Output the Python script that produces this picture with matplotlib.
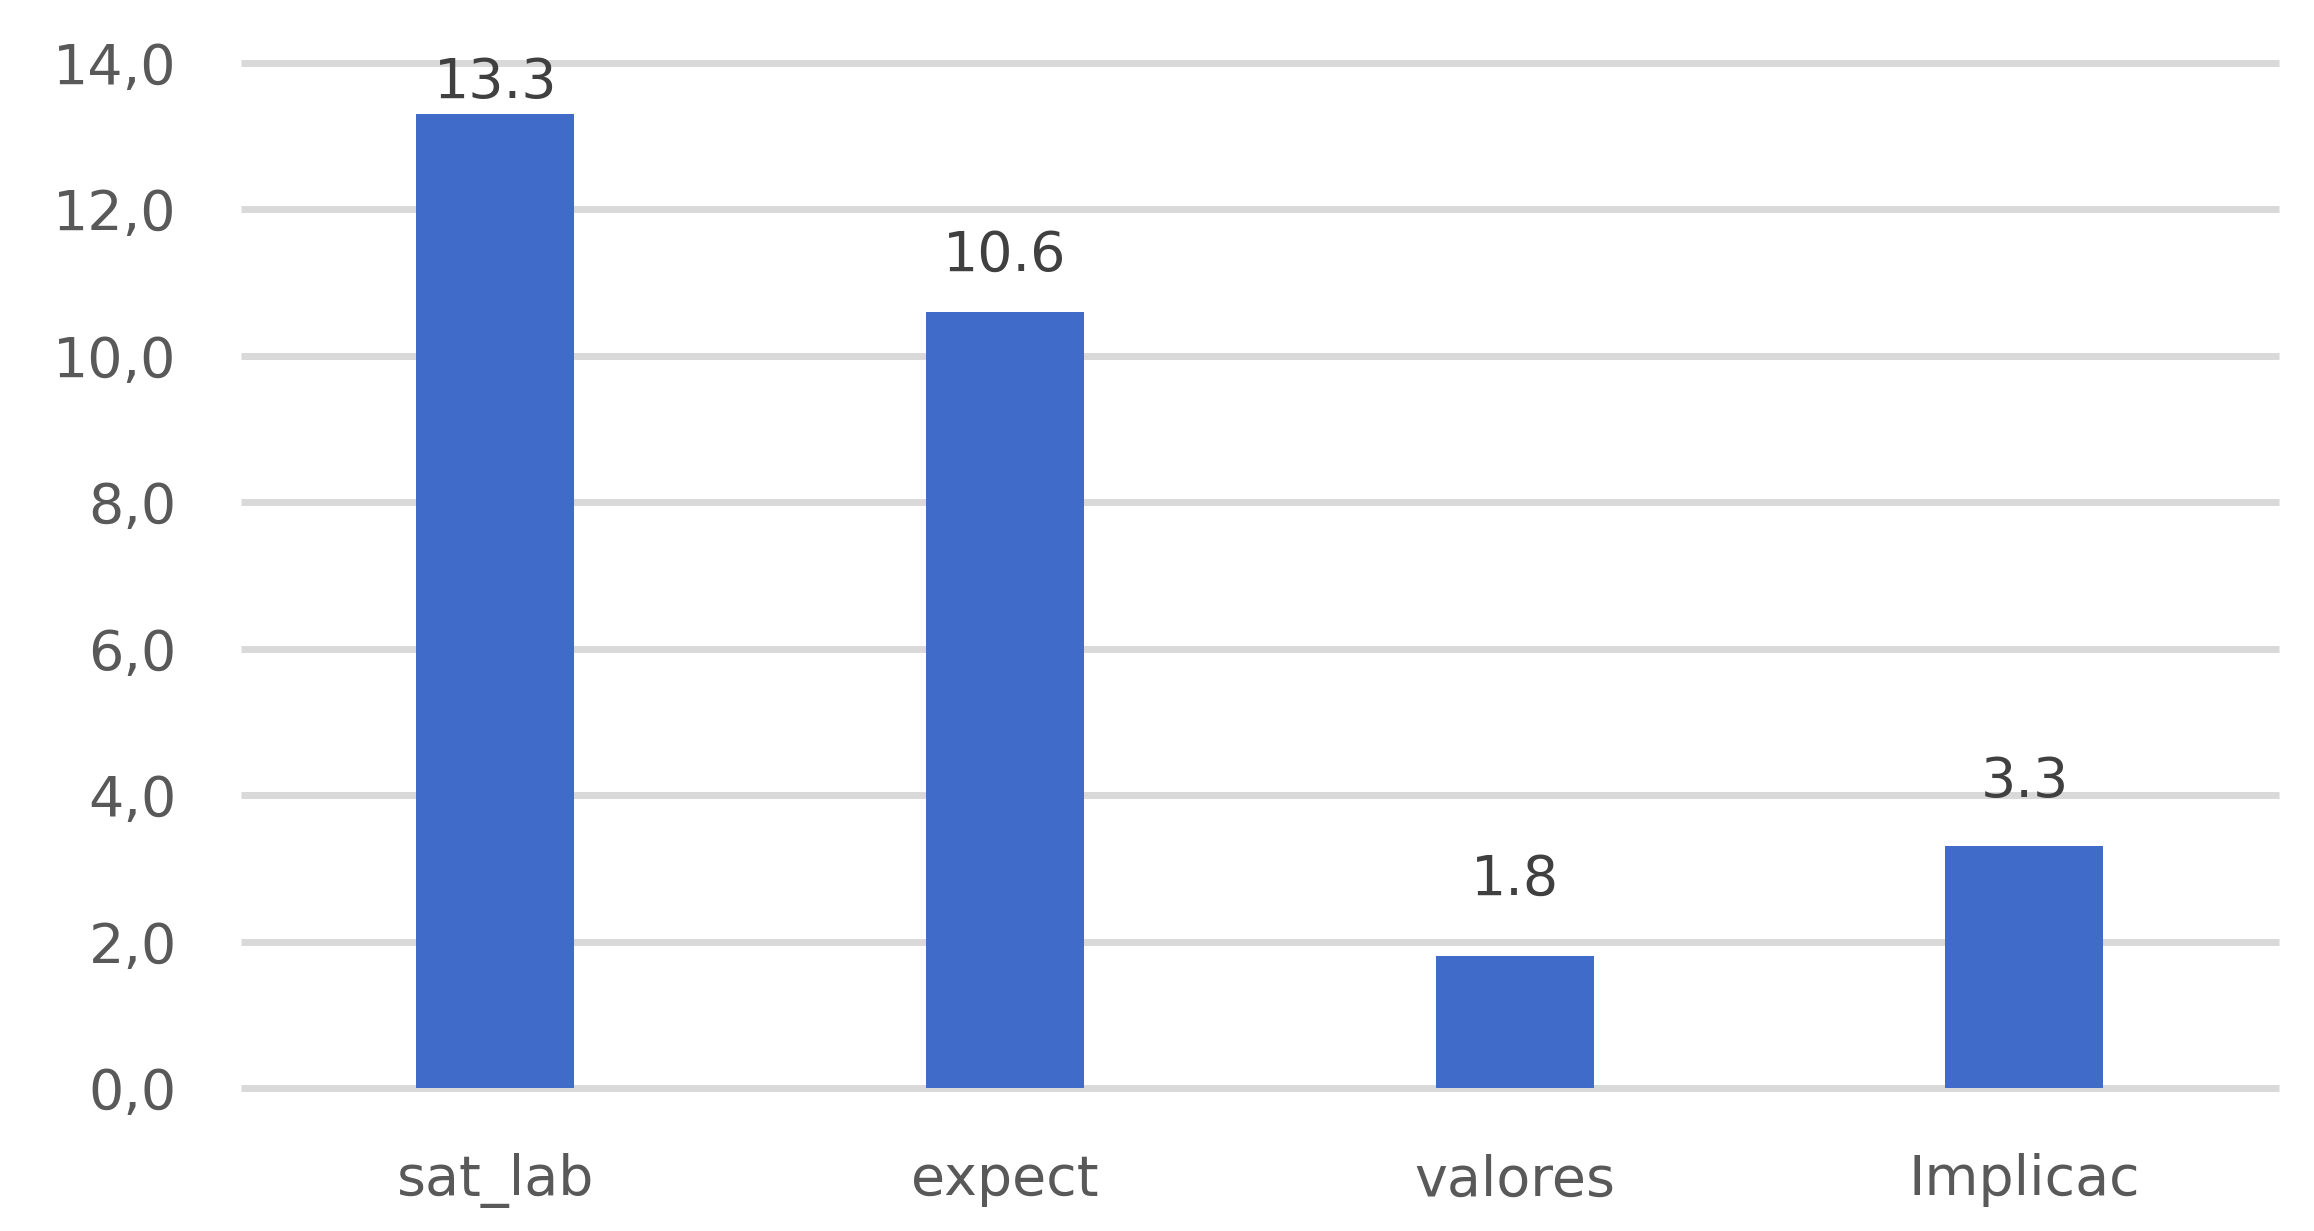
import numpy as np
import matplotlib.pyplot as plt

categories = ["sat_lab", "expect", "valores", "Implicac"]
values = [13.3, 10.6, 1.8, 3.3]
label_offsets = [3, 21, 36, 27]  # points above bar top, as placed in the original
yticks = [0, 2, 4, 6, 8, 10, 12, 14]

plt.rcParams['font.family'] = ['DejaVu Sans']

fig = plt.figure(figsize=(23.14, 12.31), dpi=100)
ax = fig.add_axes([0.104, 0.116, 0.881, 0.833])

x = np.arange(len(categories))
bars = ax.bar(x, values, width=0.31, color="#416BC8", zorder=2)

for xi, v, off in zip(x, values, label_offsets):
    ax.annotate(f"{v:.1f}", (xi, v), xytext=(0, off), textcoords="offset points",
                ha="center", va="bottom", fontsize=40, color="#404040")

ax.set_xlim(-0.5, 3.5)
ax.set_ylim(0, 14)
ax.set_yticks(yticks)
ax.set_yticklabels([f"{t:.1f}".replace(".", ",") for t in yticks])
ax.set_xticks(x)
ax.set_xticklabels(categories)
ax.tick_params(axis="both", length=0, labelsize=40, labelcolor="#595959")
ax.tick_params(axis="y", pad=46)
ax.tick_params(axis="x", pad=47)
ax.yaxis.grid(True, color="#D9D9D9", linewidth=5)
ax.set_axisbelow(True)
for gl in ax.get_ygridlines():
    gl.set_clip_on(False)
    gl.set_solid_capstyle("butt")
for s in ax.spines.values():
    s.set_visible(False)

fig.savefig("out.png", dpi=100)
